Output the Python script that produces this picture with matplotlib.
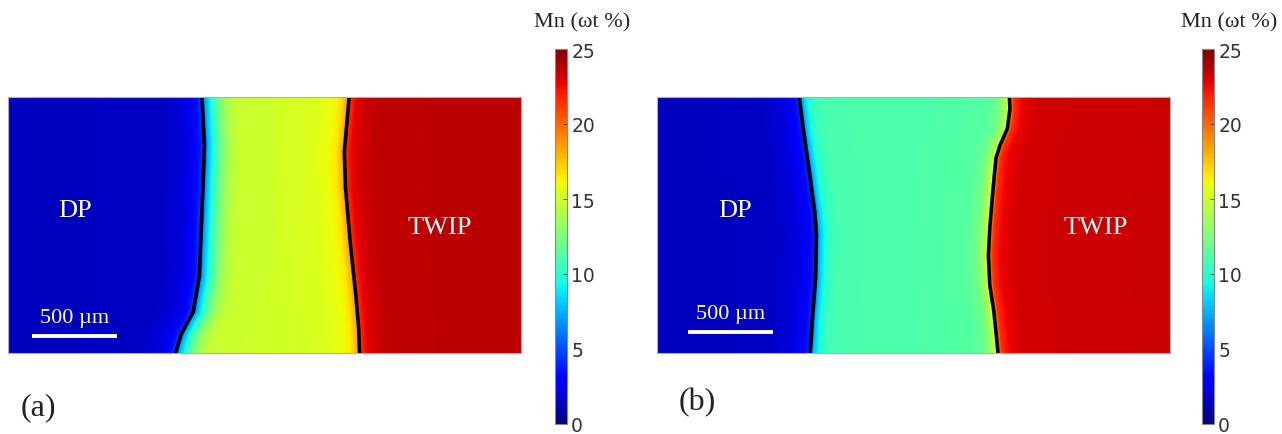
"""Mn concentration maps across the DP / TWIP interface, panels (a) and (b)."""
import numpy as np
import matplotlib
matplotlib.use("Agg")
import matplotlib.pyplot as plt

W, H = 1282, 435
DPI = 100

# sample size in um (scale bar = 500 um)
LENGTH = 3000.0
HEIGHT = 1500.0

# interface lines (x um, y um), top to bottom
LINE_A_LEFT_X = [1134, 1149, 1140, 1119, 1083, 1050, 1011, 981]
LINE_A_LEFT_Y = [1500, 1215, 975, 450, 240, 180, 105, 0]
LINE_A_RIGHT_X = [1995, 1979, 1967, 1974, 2003, 2034, 2051, 2056]
LINE_A_RIGHT_Y = [1500, 1315, 1179, 965, 633, 340, 145, 0]

LINE_B_LEFT_X = [832, 855, 891, 922, 932, 927, 908, 896]
LINE_B_LEFT_Y = [1500, 1315, 1062, 828, 691, 438, 184, 0]
LINE_B_RIGHT_X = [2061, 2064, 2049, 2006, 1982, 1962, 1946, 1938, 1946, 1970, 1986, 1994]
LINE_B_RIGHT_Y = [1500, 1432, 1315, 1218, 1140, 925, 730, 574, 399, 243, 87, 0]

# Mn profiles (wt %) vs distance from each interface line (um)
LEFT_A_OFF = [-1200, -250, -150, -80, -30, 0, 20, 50, 90, 140, 200, 450]
LEFT_A_VAL = [1.4, 1.5, 1.8, 2.4, 3.6, 5.0, 7.5, 9.5, 11.8, 13.8, 14.8, 15.0]
RIGHT_A_OFF = [-450, -200, -100, -50, -20, 0, 15, 40, 90, 180, 1000]
RIGHT_A_VAL = [15.1, 15.4, 15.9, 16.6, 17.8, 19.5, 21.8, 22.6, 23.2, 23.6, 23.7]

LEFT_B_OFF = [-900, -250, -120, -50, -15, 0, 20, 50, 90, 150, 500]
LEFT_B_VAL = [1.4, 1.5, 2.0, 2.8, 4.0, 5.5, 8.0, 9.7, 10.6, 11.0, 11.1]
RIGHT_B_OFF = [-500, -150, -80, -40, -15, 0, 20, 60, 150, 1100]
RIGHT_B_VAL = [11.1, 11.3, 12.0, 13.3, 15.5, 18.5, 21.5, 22.5, 23.2, 23.4]

CBAR_TICKS = [0, 5, 10, 15, 20, 25]
CBAR_TITLE = "Mn (\u03c9t %)"
SCALE_LABEL = "500 \u00b5m"

SERIF = ["Liberation Serif", "DejaVu Serif"]


def line_at(y, lx, ly):
    # lines are listed top -> bottom, np.interp needs increasing y
    return np.interp(y, ly[::-1], lx[::-1])


def build_field(left, right, lprof, rprof):
    xs = np.linspace(0, LENGTH, 751)
    ys = np.linspace(0, HEIGHT, 301)
    field = np.empty((ys.size, xs.size))
    for i, y in enumerate(ys):
        xl = line_at(y, *left)
        xr = line_at(y, *right)
        vl = np.interp(xs - xl, *lprof)
        vr = np.interp(xs - xr, *rprof)
        field[i] = np.where(xs < 0.5 * (xl + xr), vl, vr)
    return field


def draw_panel(px, cx, tag, tag_xy, left, right, lprof, rprof,
               dp_x, twip_x, bar_x, bar_y):
    ax = fig.add_axes([px / W, (H - 354) / H, 513 / W, 256 / H])
    field = build_field(left, right, lprof, rprof)
    im = ax.imshow(field, origin="lower", extent=[0, LENGTH, 0, HEIGHT],
                   cmap="jet", vmin=0, vmax=25, aspect="auto",
                   interpolation="bilinear")
    ax.plot(left[0], left[1], color="black", lw=2.6, solid_capstyle="round")
    ax.plot(right[0], right[1], color="black", lw=2.6, solid_capstyle="round")
    ax.set_xlim(0, LENGTH)
    ax.set_ylim(0, HEIGHT)
    ax.set_xticks([])
    ax.set_yticks([])
    for s in ax.spines.values():
        s.set_color("#b0b0b0")
        s.set_linewidth(0.8)

    ax.text(dp_x, 838, "DP", color="white", fontsize=19, family=SERIF,
            ha="center", va="center")
    ax.text(twip_x, 740, "TWIP", color="white", fontsize=19, family=SERIF,
            ha="center", va="center")
    ax.plot([bar_x, bar_x + 500], [bar_y, bar_y], color="white", lw=2.8,
            solid_capstyle="butt")
    ax.text(bar_x + 250, bar_y + 55, SCALE_LABEL, color="white", fontsize=16,
            family=SERIF, ha="center", va="bottom")

    cax = fig.add_axes([cx / W, (H - 425) / H, 12 / W, 375 / H])
    cb = fig.colorbar(im, cax=cax, ticks=CBAR_TICKS)
    cb.outline.set_edgecolor("#888888")
    cb.outline.set_linewidth(0.8)
    cax.tick_params(labelsize=13.5, length=3, width=0.6, direction="in",
                    colors="#333333", pad=3)
    fig.text((cx + 27) / W, (H - 23) / H, CBAR_TITLE, fontsize=16,
             family=SERIF, color="#222222", ha="center", va="center")
    fig.text(tag_xy[0] / W, (H - tag_xy[1]) / H, tag, fontsize=23,
             family=SERIF, color="#222222", ha="center", va="center")


fig = plt.figure(figsize=(W / DPI, H / DPI), dpi=DPI)

draw_panel(8, 555, "(a)", (38, 408),
           (LINE_A_LEFT_X, LINE_A_LEFT_Y), (LINE_A_RIGHT_X, LINE_A_RIGHT_Y),
           (LEFT_A_OFF, LEFT_A_VAL), (RIGHT_A_OFF, RIGHT_A_VAL),
           392, 2523, 139, 100)
draw_panel(657, 1202, "(b)", (697, 403),
           (LINE_B_LEFT_X, LINE_B_LEFT_Y), (LINE_B_RIGHT_X, LINE_B_RIGHT_Y),
           (LEFT_B_OFF, LEFT_B_VAL), (RIGHT_B_OFF, RIGHT_B_VAL),
           456, 2567, 181, 123)

fig.savefig("out.png", dpi=DPI)
